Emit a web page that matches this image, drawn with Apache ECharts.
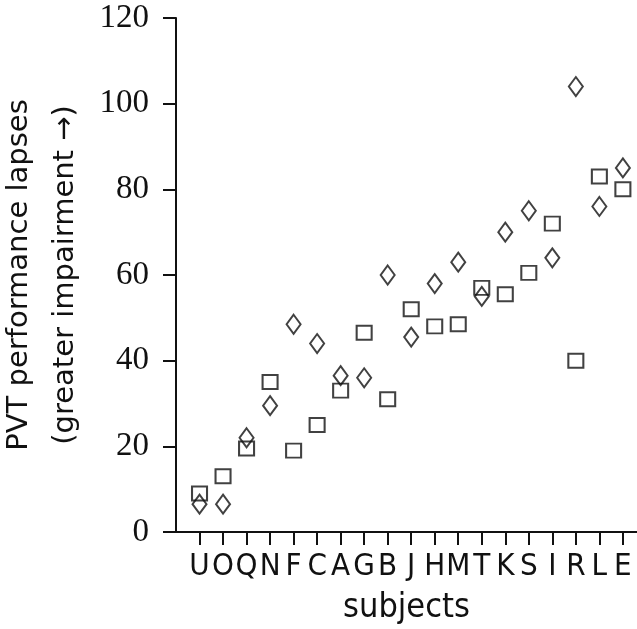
<!DOCTYPE html>
<html>
<head>
<meta charset="UTF-8">
<script src="https://cdn.jsdelivr.net/npm/echarts@6/dist/echarts.min.js"></script>
<style>
  html, body { margin: 0; padding: 0; width: 100%; height: 100%; background: #fff; }
  #main { width: 637px; height: 629px; }
</style>
</head>
<body>
<div id="main"></div>
<script>
// subjects in the order shown on the x axis
const subjects = ['U', 'O', 'Q', 'N', 'F', 'C', 'A', 'G', 'B', 'J', 'H', 'M', 'T', 'K', 'S', 'I', 'R', 'L', 'E'];
// lapses, square markers
const squareLapses = [9, 13, 19.5, 35, 19, 25, 33, 46.5, 31, 52, 48, 48.5, 57, 55.5, 60.5, 72, 40, 83, 80];
// lapses, diamond markers
const diamondLapses = [6.5, 6.5, 22, 29.5, 48.5, 44, 36.5, 36, 60, 45.5, 58, 63, 55, 70, 75, 64, 104, 76, 85];
const yTicks = [0, 20, 40, 60, 80, 100, 120];

const ink = '#111';
const narrow = '"Liberation Sans Narrow", "DejaVu Sans Condensed", sans-serif';
const positions = subjects.map((s, i) => i);
const pairs = vals => vals.map((v, i) => [i, v]);

const chart = echarts.init(document.getElementById('main'));
chart.setOption({
  animation: false,
  grid: { left: 176, right: 0, top: 18, bottom: 97, outerBoundsMode: 'none' },
  xAxis: {
    type: 'value',
    min: -1,
    max: 18.6,
    name: 'subjects',
    nameLocation: 'middle',
    nameGap: 59,
    nameTextStyle: { fontFamily: narrow, fontSize: 34, color: ink, verticalAlign: 'top' },
    axisLine: { onZero: false, lineStyle: { color: ink, width: 2 } },
    axisTick: { customValues: positions, length: 13, lineStyle: { color: ink, width: 2 } },
    axisLabel: {
      customValues: positions,
      formatter: v => subjects[Math.round(v)] || '',
      margin: 19,
      fontFamily: narrow,
      fontSize: 31,
      color: ink
    },
    splitLine: { show: false }
  },
  yAxis: {
    type: 'value',
    min: yTicks[0],
    max: yTicks[yTicks.length - 1],
    interval: 20,
    name: 'PVT performance lapses\n(greater impairment \u2192)',
    nameLocation: 'middle',
    nameRotate: 90,
    nameGap: 80,
    nameTextStyle: { fontFamily: 'DejaVu Sans', fontSize: 29, lineHeight: 46, color: ink },
    axisLine: { show: true, onZero: false, lineStyle: { color: ink, width: 2 } },
    axisTick: { show: true, length: 13, lineStyle: { color: ink, width: 2 } },
    axisLabel: { margin: 27, fontFamily: 'Liberation Serif', fontSize: 33, color: ink },
    splitLine: { show: false }
  },
  series: [
    {
      name: 'squares',
      type: 'scatter',
      symbol: 'rect',
      symbolSize: [15, 14],
      data: pairs(squareLapses),
      itemStyle: { color: 'rgba(0,0,0,0)', borderColor: ink, borderWidth: 2 }
    },
    {
      name: 'diamonds',
      type: 'scatter',
      symbol: 'diamond',
      symbolSize: [14, 19],
      data: pairs(diamondLapses),
      itemStyle: { color: 'rgba(0,0,0,0)', borderColor: ink, borderWidth: 2 }
    }
  ]
});
</script>
</body>
</html>
